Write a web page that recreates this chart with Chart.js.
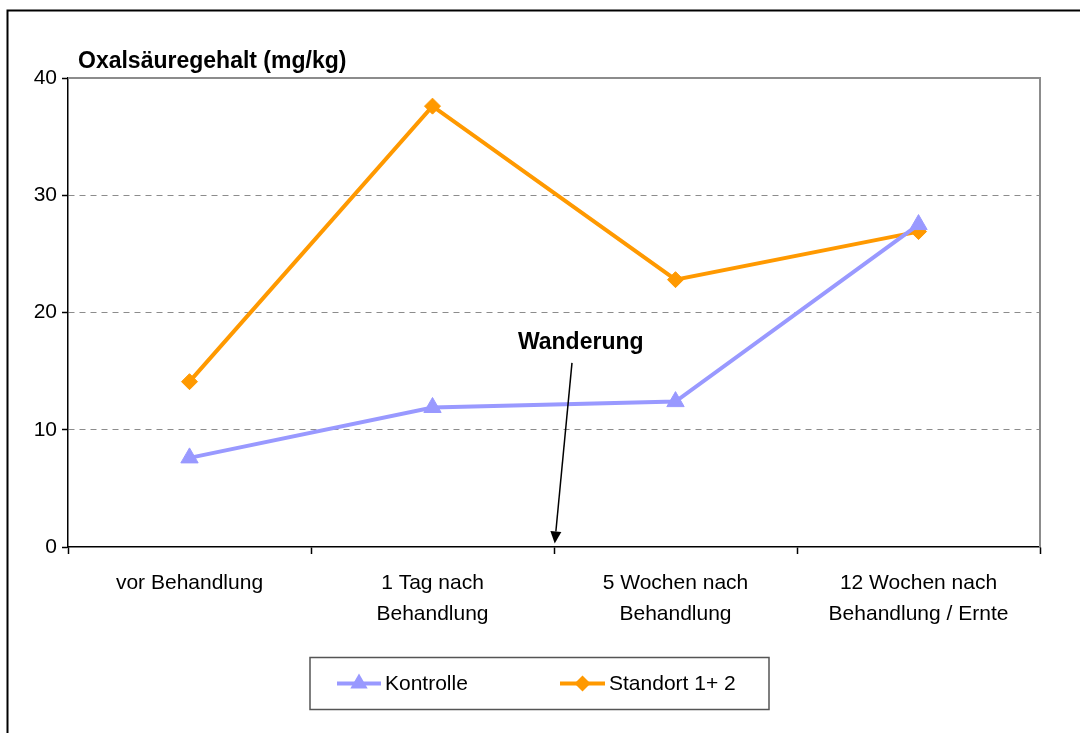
<!DOCTYPE html>
<html>
<head>
<meta charset="utf-8">
<script src="https://cdn.jsdelivr.net/npm/chart.js@4.4.1/dist/chart.umd.min.js"></script>
<style>
  html, body { margin: 0; padding: 0; background: #fff; }
  #wrap { width: 1080px; height: 733px; position: relative; }
</style>
</head>
<body>
<div id="wrap"><canvas id="c" width="1080" height="733"></canvas></div>
<script>
const categories = [
  ["vor Behandlung"],
  ["1 Tag nach", "Behandlung"],
  ["5 Wochen nach", "Behandlung"],
  ["12 Wochen nach", "Behandlung / Ernte"]
];
const kontrolle = [7.6, 11.9, 12.4, 27.5];
const standort = [14.1, 37.6, 22.8, 26.9];
const seriesNames = ["Kontrolle", "Standort 1+ 2"];
const yTicks = [0, 10, 20, 30, 40];
const yTitle = "Oxalsäuregehalt (mg/kg)";
const annotationText = "Wanderung";

const FONT = "'Liberation Sans', Arial, sans-serif";

function drawMarker(ctx, style, r, x, y) {
  if (style === 'triangle') {
    ctx.moveTo(x, y - r);
    ctx.lineTo(x + r * 0.866, y + r * 0.5);
    ctx.lineTo(x - r * 0.866, y + r * 0.5);
    ctx.closePath();
  } else {
    ctx.moveTo(x, y - r);
    ctx.lineTo(x + r, y);
    ctx.lineTo(x, y + r);
    ctx.lineTo(x - r, y);
    ctx.closePath();
  }
}

const decorPlugin = {
  id: 'decor',
  afterDraw(chart) {
    const ctx = chart.ctx;
    const a = chart.chartArea;
    const xs = chart.scales.x, ys = chart.scales.y;
    ctx.save();
    // outer frame
    ctx.strokeStyle = '#000';
    ctx.lineWidth = 2;
    ctx.beginPath();
    ctx.moveTo(7.5, 733);
    ctx.lineTo(7.5, 10.5);
    ctx.lineTo(1080, 10.5);
    ctx.stroke();
    // plot area top/right border
    ctx.strokeStyle = '#8c8c8c';
    ctx.lineWidth = 2;
    ctx.beginPath();
    ctx.moveTo(a.left, a.top);
    ctx.lineTo(a.right, a.top);
    ctx.lineTo(a.right, a.bottom);
    ctx.stroke();
    // y title
    ctx.fillStyle = '#000';
    ctx.font = "bold 23px " + FONT;
    ctx.textAlign = 'left';
    ctx.textBaseline = 'middle';
    ctx.fillText(yTitle, a.left + 10, 62);
    // annotation
    ctx.textAlign = 'center';
    ctx.fillText(annotationText, xs.getPixelForValue(1.61), ys.getPixelForValue(17.4));
    const x1 = xs.getPixelForValue(1.574), y1 = ys.getPixelForValue(15.7);
    const x2 = xs.getPixelForValue(1.503), y2 = ys.getPixelForValue(0.3);
    ctx.strokeStyle = '#000';
    ctx.lineWidth = 1.5;
    const ang = Math.atan2(y2 - y1, x2 - x1);
    const hl = 12, hw = 5.5;
    const bx = x2 - hl * Math.cos(ang), by = y2 - hl * Math.sin(ang);
    ctx.beginPath();
    ctx.moveTo(x1, y1);
    ctx.lineTo(bx, by);
    ctx.stroke();
    ctx.fillStyle = '#000';
    ctx.beginPath();
    ctx.moveTo(x2, y2);
    ctx.lineTo(bx + hw * Math.sin(ang), by - hw * Math.cos(ang));
    ctx.lineTo(bx - hw * Math.sin(ang), by + hw * Math.cos(ang));
    ctx.closePath();
    ctx.fill();
    // legend
    const L = { x: 310, y: 657.5, w: 459, h: 52 };
    ctx.strokeStyle = '#555';
    ctx.lineWidth = 1.5;
    ctx.strokeRect(L.x, L.y, L.w, L.h);
    const cy = L.y + L.h / 2;
    const items = [
      { x0: 337, x1: 381, tx: 385 },
      { x0: 560, x1: 605, tx: 609 }
    ];
    chart.data.datasets.forEach((ds, i) => {
      const it = items[i];
      ctx.strokeStyle = ds.borderColor;
      ctx.lineWidth = ds.borderWidth;
      ctx.beginPath();
      ctx.moveTo(it.x0, cy);
      ctx.lineTo(it.x1, cy);
      ctx.stroke();
      ctx.fillStyle = ds.backgroundColor;
      ctx.beginPath();
      drawMarker(ctx, ds.pointStyle, ds.pointRadius, (it.x0 + it.x1) / 2, cy);
      ctx.fill();
      ctx.fillStyle = '#000';
      ctx.font = "21px " + FONT;
      ctx.textAlign = 'left';
      ctx.textBaseline = 'middle';
      ctx.fillText(ds.label, it.tx, cy + 1);
    });
    ctx.restore();
  }
};

new Chart(document.getElementById('c'), {
  type: 'line',
  data: {
    labels: categories,
    datasets: [
      {
        label: seriesNames[0],
        data: kontrolle,
        borderColor: '#9999ff',
        backgroundColor: '#9999ff',
        borderWidth: 4,
        pointStyle: 'triangle',
        pointRadius: 10,
        pointBorderWidth: 1,
        tension: 0
      },
      {
        label: seriesNames[1],
        data: standort,
        borderColor: '#ff9900',
        backgroundColor: '#ff9900',
        borderWidth: 4,
        pointStyle: 'rectRot',
        pointRadius: 8,
        pointBorderWidth: 1,
        tension: 0
      }
    ]
  },
  options: {
    responsive: false,
    animation: false,
    devicePixelRatio: 1,
    layout: { padding: { top: 78, right: 40, left: 0, bottom: 0 } },
    plugins: {
      legend: { display: false },
      tooltip: { enabled: false },
      title: { display: false }
    },
    scales: {
      x: {
        type: 'category',
        offset: true,
        grid: {
          offset: true,
          drawOnChartArea: false,
          drawTicks: true,
          tickLength: 7,
          tickColor: '#000',
          tickWidth: 1.5
        },
        border: { display: true, color: '#000', width: 1.5 },
        ticks: {
          color: '#000',
          font: { family: FONT, size: 21, lineHeight: 1.5 },
          padding: 13,
          maxRotation: 0,
          autoSkip: false
        },
        afterFit(scale) { scale.height = 186; }
      },
      y: {
        min: 0,
        max: 40,
        afterBuildTicks(scale) { scale.ticks = yTicks.map(v => ({ value: v })); },
        grid: {
          color: (c) => (c.tick && (c.tick.value === 0 || c.tick.value === 40)) ? 'rgba(0,0,0,0)' : '#8c8c8c',
          lineWidth: 1,
          drawTicks: true,
          tickLength: 6,
          tickColor: '#000',
          tickWidth: 1.5
        },
        border: { display: true, color: '#000', width: 1.5, dash: [6, 5] },
        ticks: {
          color: '#000',
          font: { family: FONT, size: 21 },
          padding: 5
        },
        afterFit(scale) { scale.width = 68; }
      }
    }
  },
  plugins: [decorPlugin]
});
</script>
</body>
</html>
